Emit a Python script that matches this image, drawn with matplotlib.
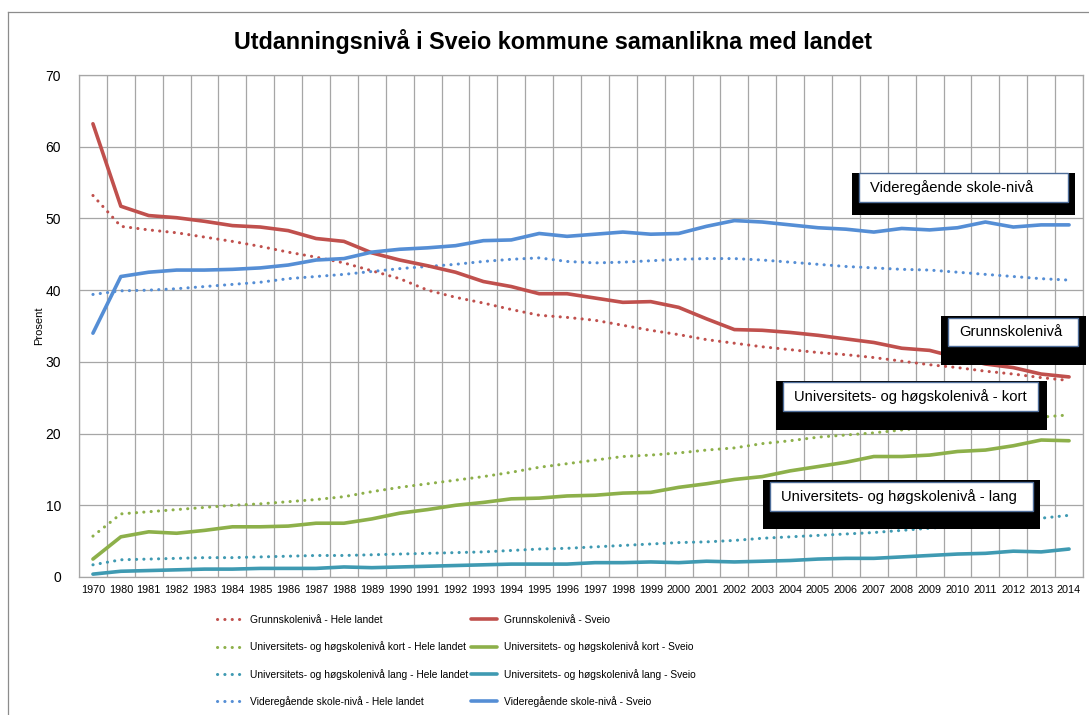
#!/usr/bin/env python3
"""Utdanningsnivå i Sveio kommune samanlikna med landet."""

import numpy as np
import matplotlib
matplotlib.use("Agg")
import matplotlib.pyplot as plt
from matplotlib.patches import Rectangle
from matplotlib.lines import Line2D

years = ["1970"] + [str(y) for y in range(1980, 2015)]

grunn_land = [53.2, 48.9, 48.4, 48.0, 47.4, 46.8, 46.1, 45.3, 44.6, 43.8, 42.7, 41.6,
              40.0, 39.0, 38.2, 37.3, 36.5, 36.2, 35.8, 35.1, 34.4, 33.8, 33.1, 32.6,
              32.1, 31.7, 31.3, 31.0, 30.6, 30.1, 29.6, 29.2, 28.7, 28.3, 27.8, 27.4]
grunn_sveio = [63.2, 51.7, 50.4, 50.1, 49.6, 49.0, 48.8, 48.3, 47.2, 46.8, 45.2, 44.2,
               43.4, 42.5, 41.2, 40.5, 39.5, 39.5, 38.9, 38.3, 38.4, 37.6, 36.0, 34.5,
               34.4, 34.1, 33.7, 33.2, 32.7, 31.9, 31.6, 30.6, 29.7, 29.2, 28.3, 27.9]
kort_land = [5.7, 8.8, 9.1, 9.4, 9.7, 10.0, 10.2, 10.5, 10.8, 11.2, 11.9, 12.5,
             13.0, 13.5, 14.0, 14.6, 15.3, 15.8, 16.3, 16.8, 17.0, 17.3, 17.7, 18.0,
             18.6, 19.0, 19.5, 19.8, 20.1, 20.5, 20.9, 21.3, 21.7, 22.0, 22.3, 22.6]
kort_sveio = [2.5, 5.6, 6.3, 6.1, 6.5, 7.0, 7.0, 7.1, 7.5, 7.5, 8.1, 8.9,
              9.4, 10.0, 10.4, 10.9, 11.0, 11.3, 11.4, 11.7, 11.8, 12.5, 13.0, 13.6,
              14.0, 14.8, 15.4, 16.0, 16.8, 16.8, 17.0, 17.5, 17.7, 18.3, 19.1, 19.0]
lang_land = [1.7, 2.4, 2.5, 2.6, 2.7, 2.7, 2.8, 2.9, 3.0, 3.0, 3.1, 3.2,
             3.3, 3.4, 3.5, 3.7, 3.9, 4.0, 4.2, 4.4, 4.6, 4.8, 4.9, 5.1,
             5.4, 5.6, 5.8, 6.0, 6.2, 6.5, 6.8, 7.1, 7.4, 7.8, 8.2, 8.6]
lang_sveio = [0.4, 0.8, 0.9, 1.0, 1.1, 1.1, 1.2, 1.2, 1.2, 1.4, 1.3, 1.4,
              1.5, 1.6, 1.7, 1.8, 1.8, 1.8, 2.0, 2.0, 2.1, 2.0, 2.2, 2.1,
              2.2, 2.3, 2.5, 2.6, 2.6, 2.8, 3.0, 3.2, 3.3, 3.6, 3.5, 3.9]
vgs_land = [39.4, 39.9, 40.0, 40.2, 40.5, 40.8, 41.1, 41.6, 41.9, 42.2, 42.6, 43.0,
            43.3, 43.6, 44.0, 44.3, 44.5, 44.0, 43.8, 43.9, 44.1, 44.3, 44.4, 44.4,
            44.2, 43.9, 43.6, 43.3, 43.1, 42.9, 42.8, 42.5, 42.2, 41.9, 41.6, 41.4]
vgs_sveio = [34.0, 41.9, 42.5, 42.8, 42.8, 42.9, 43.1, 43.5, 44.2, 44.4, 45.3, 45.7,
             45.9, 46.2, 46.9, 47.0, 47.9, 47.5, 47.8, 48.1, 47.8, 47.9, 48.9, 49.7,
             49.5, 49.1, 48.7, 48.5, 48.1, 48.6, 48.4, 48.7, 49.5, 48.8, 49.1, 49.1]

RED = "#C0504D"
GREEN = "#8DB04A"
TEAL = "#3F9AB2"
BLUE = "#558ED5"

series = [
    ("Grunnskolenivå - Hele landet", grunn_land, RED, "dot"),
    ("Universitets- og høgskolenivå kort - Hele landet", kort_land, GREEN, "dot"),
    ("Universitets- og høgskolenivå lang - Hele landet", lang_land, TEAL, "dot"),
    ("Videregående skole-nivå - Hele landet", vgs_land, BLUE, "dot"),
    ("Grunnskolenivå - Sveio", grunn_sveio, RED, "solid"),
    ("Universitets- og høgskolenivå kort - Sveio", kort_sveio, GREEN, "solid"),
    ("Universitets- og høgskolenivå lang - Sveio", lang_sveio, TEAL, "solid"),
    ("Videregående skole-nivå - Sveio", vgs_sveio, BLUE, "solid"),
]

callouts = [
    ("Videregående skole-nivå", (852, 173, 1075, 215), (859, 173, 1068, 202)),
    ("Grunnskolenivå", (941, 316, 1086, 365), (948, 318, 1078, 346)),
    ("Universitets- og høgskolenivå - kort", (776, 381, 1047, 430), (783, 382, 1038, 411)),
    ("Universitets- og høgskolenivå - lang", (763, 480, 1040, 529), (770, 482, 1033, 511)),
]

plt.rcParams["font.family"] = ["Liberation Sans", "DejaVu Sans"]

W, H = 1089, 715
fig = plt.figure(figsize=(W / 100, H / 100), dpi=100)


def fx(px):
    return px / W


def fy(py):
    return 1 - py / H


# outer chart border (only top and left edges are visible)
fig.add_artist(Line2D([fx(8), fx(8)], [fy(12), 0], color="#8C8C8C", lw=0.9))
fig.add_artist(Line2D([fx(8), 1], [fy(12), fy(12)], color="#8C8C8C", lw=0.9))

ax = fig.add_axes([fx(79), fy(577), fx(1083) - fx(79), fy(75) - fy(577)])
x = np.arange(len(years))

handles = []
for label, vals, color, style in series:
    if style == "dot":
        ln, = ax.plot(x, vals, color=color, lw=2.2, linestyle=(0, (0.05, 2.35)),
                      dash_capstyle="round", label=label, zorder=3)
    else:
        ln, = ax.plot(x, vals, color=color, lw=2.6, solid_capstyle="round",
                      label=label, zorder=4)
    handles.append(ln)

ax.set_xlim(-0.5, len(years) - 0.5)
ax.set_ylim(0, 70)
ax.set_yticks(range(0, 71, 10))
ax.set_xticks(x)
ax.set_xticklabels(years, fontsize=7.8)
ax.set_xticks(np.arange(-0.5, len(years), 1), minor=True)
ax.tick_params(axis="x", which="both", length=0, pad=6)
ax.tick_params(axis="y", length=0, labelsize=10, pad=13)
ax.grid(True, which="minor", axis="x", color="#A6A6A6", lw=0.9)
ax.grid(True, which="major", axis="y", color="#A6A6A6", lw=0.9)
ax.set_axisbelow(True)
for sp in ax.spines.values():
    sp.set_color("#A6A6A6")
    sp.set_linewidth(0.9)
ax.set_ylabel("Prosent", fontsize=8, labelpad=1)

fig.text(fx(553), fy(42), "Utdanningsnivå i Sveio kommune samanlikna med landet",
         fontsize=16.8, fontweight="bold", ha="center", va="center")

for text, (bx0, by0, bx1, by1), (wx0, wy0, wx1, wy1) in callouts:
    fig.add_artist(Rectangle((fx(bx0), fy(by1)), fx(bx1) - fx(bx0), fy(by0) - fy(by1),
                             transform=fig.transFigure, facecolor="black",
                             edgecolor="none", zorder=5))
    fig.add_artist(Rectangle((fx(wx0), fy(wy1)), fx(wx1) - fx(wx0), fy(wy0) - fy(wy1),
                             transform=fig.transFigure, facecolor="white",
                             edgecolor="#4F6E9A", lw=1.0, zorder=6))
    fig.text(fx(wx0 + 11), (fy(wy0) + fy(wy1)) / 2, text, fontsize=10.6,
             ha="left", va="center", zorder=7)

fig.legend(handles=handles, loc="upper left", ncol=2,
           bbox_to_anchor=(fx(217), fy(615)), frameon=False, fontsize=7.4,
           handlelength=2.5, handletextpad=0.7, columnspacing=0.3,
           labelspacing=1.6, borderpad=0, borderaxespad=0)

fig.savefig("out.png", dpi=100)
plt.close(fig)
